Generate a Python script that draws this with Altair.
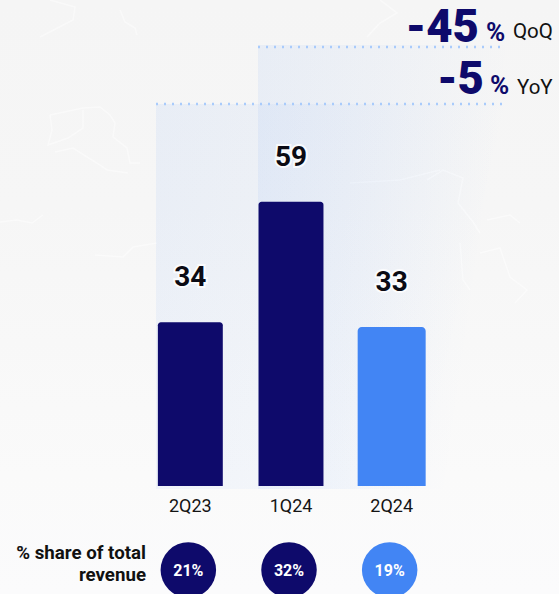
import altair as alt
import pandas as pd

# Quarterly figures
quarters = ["2Q23", "1Q24", "2Q24"]
values = [34, 59, 33]
shares = ["21%", "32%", "19%"]
share_caption = ["% share of total", "revenue"]
kpi_figures = ["-45", "-5"]
kpi_periods = ["QoQ", "YoY"]

# Faint border lines of the decorative world map behind the chart
map_borders = [
    [(50, 115), (83, 108), (100, 107), (110, 115), (115, 123), (113, 137), (127, 148), (130, 163), (140, 163)],
    [(83, 110), (83, 128), (68, 138), (48, 145), (52, 130), (50, 115)],
    [(55, 152), (73, 148), (100, 165), (107, 170), (128, 173)],
    [(0, 222), (17, 220), (32, 223), (43, 215)],
    [(95, 255), (123, 257), (133, 247), (157, 243)],
    [(50, 0), (75, 7), (73, 20), (40, 37)],
    [(120, 10), (125, 22), (135, 28), (137, 35)],
    [(427, 180), (443, 170), (463, 178), (458, 203), (473, 222), (480, 233)],
    [(487, 220), (510, 215), (520, 223)],
    [(480, 253), (500, 248), (510, 277), (527, 290), (515, 303)],
    [(460, 243), (463, 280), (470, 290)],
    [(380, 0), (397, 13), (380, 23), (367, 37)],
    [(350, 183), (400, 180), (440, 170)],
]

NAVY = "#0e0a6b"
BLUE = "#4285f4"
W, H = 559, 594

table = pd.DataFrame({"quarter": quarters, "value": values, "share": shares})
one = pd.DataFrame({"k": [0]})
border_rows = pd.DataFrame(
    [{"line": i, "order": j, "px": p[0], "py": p[1]} for i, line in enumerate(map_borders) for j, p in enumerate(line)]
)

x_scale = alt.Scale(domain=quarters, range=[140, 442], paddingInner=0.355, paddingOuter=0.1775)
y_scale = alt.Scale(domain=[-22.4, 100.83], range=[H, 0], nice=False, zero=False)
x_axis = alt.X("quarter:N", scale=x_scale, sort=quarters,
               axis=alt.Axis(title=None, domain=False, ticks=False, labelAngle=0, labelFont="Roboto",
                             labelFontSize=18, labelColor="#141414", labelPadding=0, offset=-97,
                             grid=False, zindex=1))
x = alt.X("quarter:N", scale=x_scale, sort=quarters, axis=None)
y = alt.Y("value:Q", scale=y_scale, axis=None)


def fade(stops, x2=1.0, y2=1.0):
    return alt.LinearGradient(
        gradient="linear", x1=0, y1=0, x2=x2, y2=y2,
        stops=[alt.GradientStop(color=c, offset=o) for c, o in stops],
    )


def panel(left, right, top, bottom, stops):
    return alt.Chart(one).mark_rect(color=fade(stops, 1.0, 0.25)).encode(
        x=alt.value(left), x2=alt.value(right), y=alt.value(top), y2=alt.value(bottom))


def dotted(left, right, level):
    return alt.Chart(one).mark_rule(color="#a9cbfb", strokeWidth=2.5, strokeDash=[2, 6]).encode(
        x=alt.value(left), x2=alt.value(right), y=alt.value(level))


def note(text, px, py, size, weight="normal", color="#111111", align="left", baseline="alphabetic"):
    return alt.Chart(pd.DataFrame({"t": [text]})).mark_text(
        font="Roboto", fontSize=size, fontWeight=weight, color=color, align=align, baseline=baseline
    ).encode(text="t:N", x=alt.value(px), y=alt.value(py))


backdrop = alt.Chart(one).mark_rect(
    color=fade([("#f5f5f5", 0), ("#f6f6f6", 0.35), ("#fafafa", 0.8), ("#fbfbfc", 1)], 0.0, 1.0)
).encode(x=alt.value(0), x2=alt.value(W), y=alt.value(0), y2=alt.value(H))

borders = alt.Chart(border_rows).mark_line(color="#ffffff", strokeWidth=1.5, opacity=0.45).encode(
    x=alt.X("px:Q", scale=alt.Scale(domain=[0, W], range=[0, W], nice=False, zero=False), axis=None),
    y=alt.Y("py:Q", scale=alt.Scale(domain=[0, H], range=[0, H], nice=False, zero=False), axis=None),
    detail="line:N", order="order:Q")

shade_stops = [("rgba(66,133,244,0.075)", 0), ("rgba(66,133,244,0.04)", 0.5), ("rgba(66,133,244,0)", 0.95)]
shade_yoy = panel(156, 510, 104, 489, shade_stops)
shade_qoq = panel(258, 510, 45, 489, shade_stops)

bars_navy = alt.Chart(table[table.quarter != "2Q24"]).mark_bar(
    color=NAVY, cornerRadiusTopLeft=3, cornerRadiusTopRight=3).encode(x=x_axis, y=y, y2=alt.Y2(datum=0))
bar_blue = alt.Chart(table[table.quarter == "2Q24"]).mark_bar(
    color=BLUE, width=68, cornerRadiusTopLeft=4, cornerRadiusTopRight=4).encode(x=x, y=y, y2=alt.Y2(datum=0))

label_halo = alt.Chart(table).mark_text(
    font="Roboto", fontSize=28, fontWeight="bold", dy=-44, baseline="middle",
    stroke="#ffffff", strokeWidth=4, strokeOpacity=0.8, color="#ffffff").encode(x=x, y=y, text="value:Q")
labels = alt.Chart(table).mark_text(
    font="Roboto", fontSize=28, fontWeight="bold", dy=-44, baseline="middle", color="#0b0b14"
).encode(x=x, y=y, text="value:Q")

circle_y = alt.value(570)
circles = alt.Chart(table).mark_point(filled=True, opacity=1, size=3080, xOffset=-2).encode(
    x=x, y=circle_y,
    color=alt.Color("quarter:N", scale=alt.Scale(domain=quarters, range=[NAVY, NAVY, BLUE]), legend=None))
circle_text = alt.Chart(table).mark_text(
    font="Roboto", fontSize=16, fontWeight="bold", color="#ffffff", baseline="middle", xOffset=-2
).encode(x=x, y=alt.value(571), text="share:N")

chart = alt.layer(
    backdrop, borders, shade_yoy, shade_qoq,
    dotted(156, 505, 104), dotted(258, 500, 47),
    bars_navy, bar_blue, label_halo, labels, circles, circle_text,
    note(share_caption[0], 146, 559, 18.7, "bold", align="right"),
    note(share_caption[1], 146, 581, 18.7, "bold", align="right"),
    note(kpi_figures[0], 479, 42, 45.5, 900, NAVY, "right"),
    note("%", 486, 41, 26, "bold", NAVY),
    note(kpi_periods[0], 513, 38, 20.5),
    note(kpi_figures[1], 484, 94, 45.5, 900, NAVY, "right"),
    note("%", 490, 94, 26, "bold", NAVY),
    note(kpi_periods[1], 517, 94, 20.5),
).resolve_scale(x="independent", y="independent").properties(
    width=W, height=H, padding=0, background="#f8f8f8",
    autosize=alt.AutoSizeParams(type="none"),
).configure_view(stroke=None)

chart.save("out.html", embed_options={"renderer": "svg", "actions": False})
